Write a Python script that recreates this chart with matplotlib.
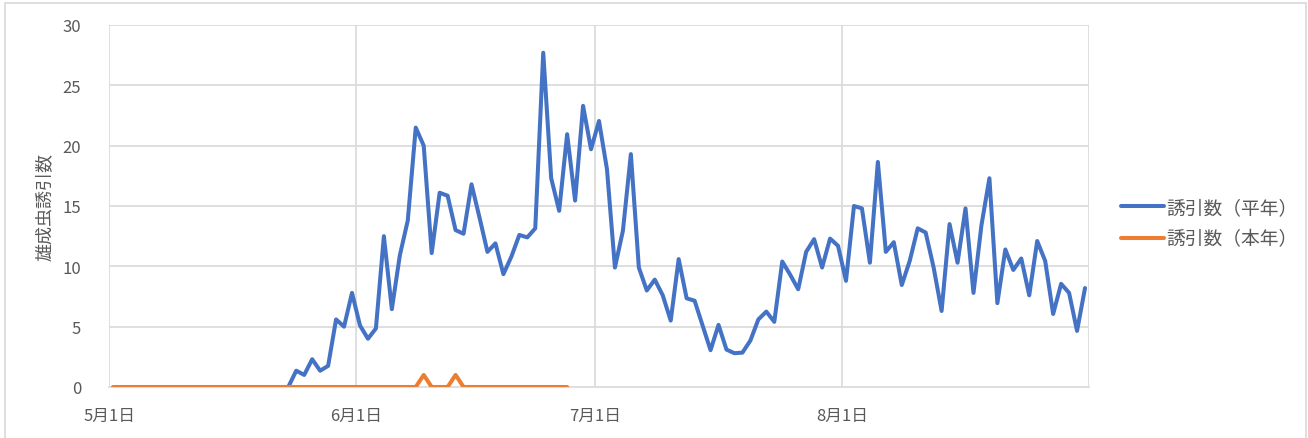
import datetime as dt
import matplotlib
matplotlib.use('Agg')
import matplotlib.pyplot as plt
from matplotlib.patches import Rectangle

plt.rcParams['font.family'] = ['Noto Sans CJK JP', 'DejaVu Sans']

# 平年: daily values from 5/23 to 8/31
avg_start = dt.date(2023, 5, 23)
avg_counts = [
    0, 1.35, 1.0, 2.3, 1.35, 1.75, 5.6, 5.0, 7.8,                  # 5/23-5/31
    5.1, 4.0, 4.85, 12.5, 6.45, 10.9, 13.8, 21.5, 20.0, 11.1,      # 6/1-6/10
    16.1, 15.85, 13.0, 12.7, 16.8, 14.05, 11.2, 11.9, 9.35, 10.8,  # 6/11-6/20
    12.6, 12.4, 13.15, 27.7, 17.3, 14.6, 20.95, 15.45, 23.3, 19.7, # 6/21-6/30
    22.05, 18.05, 9.9, 12.95, 19.3, 9.9, 8.0, 8.9, 7.6, 5.5,       # 7/1-7/10
    10.6, 7.35, 7.15, 5.1, 3.05, 5.15, 3.1, 2.8, 2.85, 3.85,       # 7/11-7/20
    5.6, 6.25, 5.4, 10.4, 9.3, 8.1, 11.2, 12.25, 9.9, 12.3, 11.7,  # 7/21-7/31
    8.8, 15.0, 14.8, 10.3, 18.65, 11.2, 12.0, 8.45, 10.45, 13.15,  # 8/1-8/10
    12.8, 9.9, 6.3, 13.5, 10.3, 14.8, 7.8, 13.4, 17.3, 6.95,       # 8/11-8/20
    11.4, 9.7, 10.65, 7.6, 12.1, 10.45, 6.05, 8.55, 7.8, 4.65, 8.2 # 8/21-8/31
]

# 本年: daily values from 5/1 to 6/27
this_start = dt.date(2023, 5, 1)
this_counts = [0] * 58
this_counts[39] = 1  # 6/9
this_counts[43] = 1  # 6/13

month_ticks = [dt.date(2023, m, 1) for m in (5, 6, 7, 8)]
month_labels = ['5月1日', '6月1日', '7月1日', '8月1日']

def day_positions(start, n):
    # Excel date axis: each point sits in the middle of its day
    return [dt.datetime.combine(start, dt.time(12)) + dt.timedelta(days=k) for k in range(n)]

avg_x = day_positions(avg_start, len(avg_counts))
this_x = day_positions(this_start, len(this_counts))

blue = '#4472C4'
orange = '#ED7D31'
grid = '#D9D9D9'
text = '#595959'

fig = plt.figure(figsize=(13.08, 4.39), dpi=100)
ax = fig.add_axes([109 / 1308, 1 - 388 / 439, (1089 - 109) / 1308, (388 - 26) / 439])

ax.plot(avg_x, avg_counts, color=blue, lw=2.9, solid_joinstyle='round',
        solid_capstyle='round', label='誘引数（平年）', zorder=3)
ax.plot(this_x, this_counts, color=orange, lw=2.9, solid_joinstyle='round',
        solid_capstyle='round', label='誘引数（本年）', zorder=4)

ax.set_xlim(dt.datetime(2023, 5, 1), dt.datetime(2023, 9, 1))
ax.set_ylim(0, 30)
ax.set_yticks(range(0, 31, 5))

grid_days = [dt.datetime(2023, m, 1) for m in (5, 6, 7, 8, 9)]
for d in grid_days:
    ax.axvline(d, color=grid, lw=1.2, zorder=1)
for y in range(5, 31, 5):
    ax.axhline(y, color=grid, lw=1.2, zorder=1)

ax.set_xticks([dt.datetime.combine(d, dt.time(0)) for d in month_ticks])
ax.set_xticklabels(month_labels)
ax.tick_params(axis='both', length=0, colors=text, labelsize=12)
ax.tick_params(axis='x', pad=14)
ax.tick_params(axis='y', pad=20)

for side in ('top', 'right', 'left'):
    ax.spines[side].set_visible(False)
ax.spines['bottom'].set_color(grid)
ax.spines['bottom'].set_linewidth(1.2)

ax.set_ylabel('雄成虫誘引数', color=text, fontsize=13, labelpad=6)

fig.legend(loc='center left', bbox_to_anchor=(1104 / 1308, 1 - 224 / 439),
           frameon=False, fontsize=13.5, handlelength=2.3, handletextpad=0.1,
           labelspacing=0.55, labelcolor=text)

# chart area border
fig.patches.append(Rectangle((5 / 1308, -0.05), 1301 / 1308, 1 - 4 / 439 + 0.05,
                             transform=fig.transFigure, fill=False,
                             edgecolor=grid, lw=1.2))

fig.savefig('out.png', dpi=100)
